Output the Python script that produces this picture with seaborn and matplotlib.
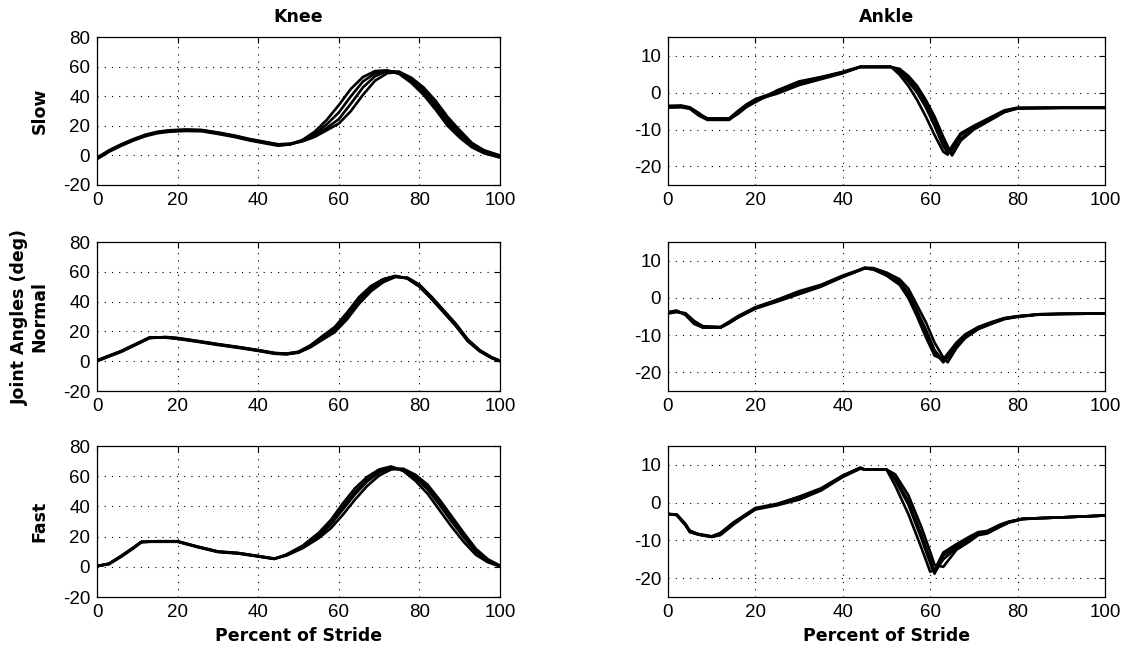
import matplotlib
matplotlib.use("Agg")
import matplotlib.pyplot as plt
import seaborn as sns
import pandas as pd

# ---------------- data ----------------
knee_slow_x = [0, 3, 6, 9, 12, 15, 18, 22, 26, 30, 34, 38, 42, 45, 48, 51, 54, 57, 60, 63,
               66, 69, 72, 75, 78, 81, 84, 87, 90, 93, 96, 100]
knee_slow_1 = [-2.5, 2.5, 6.5, 10, 13, 15, 16, 16.5, 16.3, 14.5, 12.5, 10, 8, 6.5, 7.5, 10.5,
               16, 24, 34, 45, 53, 57, 57.5, 55, 49, 41, 31, 20, 12, 5.5, 1.5, -1.5]
knee_slow_2 = [-2, 3, 7, 10.5, 13.5, 15.5, 16.5, 17, 16.8, 15, 13, 10.5, 8.5, 7, 7.5, 10,
               14.5, 21, 29, 40, 50, 55.5, 57, 56, 50, 43, 33, 22, 14, 7, 2, -1]
knee_slow_3 = [-1.5, 3.5, 7.5, 11, 14, 16, 17, 17.5, 17.2, 15.5, 13.5, 11, 9, 7.5, 8, 10,
               13.5, 18.5, 24.5, 35, 46, 53.5, 57, 56.5, 51.5, 44.5, 35, 24, 15.5, 7.5, 3, -0.5]
knee_slow_4 = [-2, 3, 7, 10.5, 13.5, 15.5, 16.8, 17.2, 17, 15.2, 13.2, 10.7, 8.7, 7.2, 7.7, 9.5,
               12.5, 17, 21.5, 30, 41, 50.5, 55.5, 56.5, 52.5, 46, 37, 26, 17, 8.5, 3.5, 0]

ankle_slow_x = [0, 3, 5, 7, 9, 14, 16, 18, 20, 25, 30, 35, 40, 44, 51, 53, 55, 57, 59, 61,
                63, 64, 65, 67, 70, 73, 77, 80, 90, 100]
ankle_slow_1 = [-3.6, -3.5, -4, -5.5, -7.2, -7.3, -5.8, -3.9, -2.6, 0.6, 3, 4.2, 5.6, 7, 7, 4.8,
                1.8, -2, -6.5, -11.5, -16, -16.8, -14.5, -11, -9, -7.2, -4.8, -4.1, -4.1, -4.0]
ankle_slow_2 = [-3.9, -3.8, -4.2, -5.8, -7, -7.1, -5.5, -3.6, -2.3, 0, 2.2, 3.8, 5.4, 6.9, 6.9, 5.6,
                3, 0, -4, -9, -14.5, -16.3, -15.5, -11.5, -9.3, -7.5, -5, -4.2, -4.1, -4.1]
ankle_slow_3 = [-4.1, -4, -4.4, -6.2, -7.4, -7.4, -5.2, -3.3, -2, -0.3, 2, 3.6, 5.2, 6.9, 6.9, 6,
                3.8, 1, -2.8, -7.5, -13, -15.5, -16.8, -12.5, -9.8, -7.8, -5.2, -4.3, -4.2, -4.2]
ankle_slow_4 = [-3.8, -3.7, -4.1, -6, -7, -7, -5, -3.2, -1.8, 0.3, 2.5, 4, 5.5, 6.9, 6.9, 6.4,
                4.5, 1.8, -2, -6.5, -12, -14.5, -17, -13, -10, -8, -5.3, -4.3, -4.1, -4.1]

knee_normal_x = [0, 3, 6, 9, 13, 17, 20, 25, 30, 35, 40, 44, 47, 50, 53, 56, 59, 62, 65, 68,
                 71, 74, 77, 80, 83, 86, 89, 92, 95, 98, 100]
knee_normal_1 = [0.3, 3.5, 6.6, 10.5, 15.8, 16, 15.3, 13.3, 11.2, 9.3, 7.2, 5.3, 4.8, 6, 10, 15.6,
                 21, 30, 40.5, 48.5, 54, 56.8, 55.8, 50.7, 42.5, 33.5, 24.5, 14, 7, 2.3, 0.2]
knee_normal_2 = [0, 3.2, 6.3, 10.2, 15.5, 16.3, 15.6, 13.6, 11.5, 9.6, 7.5, 5.6, 5.1, 6.4, 10.8, 17,
                 23, 32.5, 43, 50.5, 55, 57, 55.5, 50, 41.8, 32.8, 23.8, 13.4, 6.6, 2, 0]
knee_normal_3 = [0.6, 3.8, 6.9, 10.8, 16, 15.8, 15, 13, 10.9, 9, 6.9, 5, 4.6, 5.7, 9.4, 14.5,
                 19.5, 28, 38.5, 47, 53, 56.5, 56.2, 51.4, 43.3, 34.3, 25.3, 14.7, 7.4, 2.6, 0.4]
knee_normal_4 = [0.2, 3.4, 6.5, 10.4, 15.6, 16.1, 15.4, 13.4, 11.3, 9.4, 7.3, 5.4, 5, 6.2, 10.3, 16.2,
                 22, 31, 42, 50, 55, 57.3, 55.6, 50.3, 42, 33, 24, 13.7, 6.8, 2.2, 0.1]

ankle_normal_x = [0, 2, 4, 6, 8, 12, 14, 16, 18, 20, 25, 30, 35, 40, 43, 45, 47, 50, 53, 55,
                  57, 59, 61, 63, 64, 66, 68, 71, 74, 77, 80, 85, 90, 100]
ankle_normal_1 = [-4, -3.6, -4.3, -6.5, -7.8, -7.9, -6.6, -5.1, -3.9, -2.7, -0.8, 1.3, 3.2, 5.8, 7.1,
                  8, 7.8, 6.4, 4.3, 1.3, -3.5, -8.5, -14, -17, -15.8, -12.5, -10.2, -8, -6.7, -5.5,
                  -5, -4.4, -4.3, -4.2]
ankle_normal_2 = [-3.8, -3.4, -4.6, -7, -8, -8, -6.8, -5.3, -4.1, -2.9, -1, 1, 3, 5.6, 7,
                  8, 7.6, 6, 3.5, 0, -5, -10.5, -15.5, -16.5, -15, -12, -9.8, -7.8, -6.5, -5.4,
                  -4.9, -4.4, -4.3, -4.2]
ankle_normal_3 = [-4.2, -3.8, -4.1, -6.2, -7.6, -7.8, -6.4, -4.9, -3.7, -2.5, -0.5, 1.8, 3.5, 6, 7.2,
                  8.1, 8, 6.8, 5, 2.5, -2, -6.5, -12, -16, -17.3, -13.5, -10.8, -8.4, -7, -5.7,
                  -5.1, -4.5, -4.3, -4.2]
ankle_normal_4 = [-4, -3.7, -4.4, -6.7, -7.9, -8, -6.7, -5.2, -4, -2.8, -0.6, 1.6, 3.3, 5.7, 7,
                  7.9, 7.7, 6.2, 4, 1, -3.8, -9, -14.5, -17.3, -16, -12.8, -10.4, -8.2, -6.8, -5.6,
                  -5, -4.4, -4.3, -4.2]

knee_fast_x = [0, 3, 6, 9, 11, 15, 20, 25, 30, 35, 40, 44, 47, 51, 55, 58, 61, 64, 67, 70,
               73, 76, 79, 82, 85, 88, 91, 94, 97, 100]
knee_fast_1 = [0.5, 2, 7, 12.5, 16.5, 16.8, 16.8, 13.2, 10, 9, 7, 5.3, 7.8, 13, 20.5, 28, 38, 48,
               56.5, 62.5, 65.5, 64, 59, 51.5, 41, 30, 19.5, 10, 4, 0.5]
knee_fast_2 = [0.3, 2.2, 7.3, 12.8, 16.6, 16.6, 16.6, 13, 9.8, 8.8, 6.8, 5.2, 8.2, 14, 22.5, 31, 42, 52,
               59.5, 64.5, 66.5, 63.5, 57, 48.5, 37.5, 26.5, 16.5, 8, 3, 0.3]
knee_fast_3 = [0.7, 1.8, 6.7, 12.2, 16.3, 17, 17, 13.4, 10.2, 9.2, 7.2, 5.5, 7.5, 12.3, 19, 25.5, 34.5,
               44.5, 53.5, 60.5, 64.5, 65, 61, 54.5, 44.5, 33.5, 22.5, 12, 5, 0.8]
knee_fast_4 = [0.5, 2.1, 7.1, 12.6, 16.5, 16.9, 16.7, 13.3, 10.1, 9.1, 7.1, 5.4, 7.9, 13.3, 21, 29, 39.5,
               49.5, 57.5, 63, 65.8, 64.5, 59.8, 52.5, 42, 31, 20.5, 10.8, 4.3, 0.6]

ankle_fast_x = [0, 2, 4, 5, 7, 10, 12, 15, 17, 20, 25, 30, 35, 40, 44, 45, 50, 52, 55, 58,
                60, 61, 63, 66, 69, 71, 73, 76, 78, 81, 85, 90, 100]
ankle_fast_1 = [-3, -3.2, -5.8, -7.6, -8.4, -9, -8.3, -5.5, -3.9, -1.6, -0.5, 1.2, 3.5, 7, 9.2, 8.8,
                8.8, 6, -0.5, -9.5, -16, -18.8, -14, -11.5, -9.5, -8, -7.8, -6, -5.1, -4.3, -4.1,
                -3.9, -3.4]
ankle_fast_2 = [-3, -3.3, -6, -7.8, -8.5, -9.1, -8.6, -5.8, -4.1, -1.8, -0.7, 0.8, 3.2, 6.8, 9, 8.8,
                8.8, 4.5, -3, -12, -18.3, -17.8, -13.2, -11, -9, -7.8, -7.5, -5.8, -5, -4.3, -4.1,
                -3.9, -3.4]
ankle_fast_3 = [-3, -3.1, -5.6, -7.4, -8.3, -8.9, -8, -5.2, -3.7, -1.4, -0.3, 1.6, 3.8, 7.2, 9.3, 8.8,
                8.8, 7.5, 2, -6.5, -13, -16.5, -17, -12.5, -10.3, -8.6, -8.2, -6.4, -5.3, -4.4, -4.1,
                -3.9, -3.4]
ankle_fast_4 = [-3, -3.2, -5.9, -7.7, -8.4, -9, -8.4, -5.6, -4, -1.7, -0.4, 1.4, 3.6, 7.1, 9.2, 8.8,
                8.8, 6.5, 0.5, -8.5, -15, -18.5, -15, -12, -9.8, -8.2, -7.9, -6.1, -5.2, -4.3, -4.1,
                -3.9, -3.4]

columns = ["Knee", "Ankle"]
speeds = ["Slow", "Normal", "Fast"]
x_ticks = [0, 20, 40, 60, 80, 100]
knee_ticks = [-20, 0, 20, 40, 60, 80]
ankle_ticks = [-20, -10, 0, 10]
y_label_mid = "Joint Angles (deg)"
x_label = "Percent of Stride"

panels = {
    ("Slow", "Knee"): (knee_slow_x, [knee_slow_1, knee_slow_2, knee_slow_3, knee_slow_4]),
    ("Slow", "Ankle"): (ankle_slow_x, [ankle_slow_1, ankle_slow_2, ankle_slow_3, ankle_slow_4]),
    ("Normal", "Knee"): (knee_normal_x, [knee_normal_1, knee_normal_2, knee_normal_3, knee_normal_4]),
    ("Normal", "Ankle"): (ankle_normal_x, [ankle_normal_1, ankle_normal_2, ankle_normal_3, ankle_normal_4]),
    ("Fast", "Knee"): (knee_fast_x, [knee_fast_1, knee_fast_2, knee_fast_3, knee_fast_4]),
    ("Fast", "Ankle"): (ankle_fast_x, [ankle_fast_1, ankle_fast_2, ankle_fast_3, ankle_fast_4]),
}

# ---------------- style ----------------
sns.set_style("white")
plt.rcParams["font.family"] = ["DejaVu Sans"]
plt.rcParams["axes.unicode_minus"] = False
plt.rcParams["text.color"] = "black"
plt.rcParams["axes.labelcolor"] = "black"
plt.rcParams["xtick.color"] = "black"
plt.rcParams["ytick.color"] = "black"
plt.rcParams["axes.edgecolor"] = "black"
plt.rcParams["axes.linewidth"] = 0.9

fig = plt.figure(figsize=(11.31, 6.53), dpi=100)
fig.patch.set_facecolor("white")

col_left = {"Knee": 0.0858, "Ankle": 0.5906}
col_width = {"Knee": 0.3563, "Ankle": 0.3864}
row_bottom = {"Slow": 0.7167, "Normal": 0.4012, "Fast": 0.0857}
row_height = {"Slow": 0.2266, "Normal": 0.2282, "Fast": 0.2312}

for speed in speeds:
    for joint in columns:
        ax = fig.add_axes([col_left[joint], row_bottom[speed], col_width[joint], row_height[speed]])
        xs, curves = panels[(speed, joint)]
        rows = []
        for k, ys in enumerate(curves):
            for xv, yv in zip(xs, ys):
                rows.append({"pct": xv, "deg": yv, "stride": k})
        df = pd.DataFrame(rows)
        sns.lineplot(data=df, x="pct", y="deg", units="stride", estimator=None,
                     color="black", linewidth=1.9, ax=ax, legend=False, sort=False)
        ax.set_xlim(0, 100)
        ax.set_xticks(x_ticks)
        if joint == "Knee":
            ax.set_ylim(-20, 80)
            ax.set_yticks(knee_ticks)
        else:
            ax.set_ylim(-25, 15)
            ax.set_yticks(ankle_ticks)
        ax.grid(True, color="black", linestyle=(0, (1, 5.5)), linewidth=0.8)
        ax.tick_params(direction="in", length=4, width=0.8, top=True, right=True,
                       labelsize=13.5, colors="black", pad=5)
        for lbl in ax.get_xticklabels() + ax.get_yticklabels():
            lbl.set_family(["Liberation Sans", "DejaVu Sans"])
        for s in ax.spines.values():
            s.set_visible(True)
            s.set_color("black")
            s.set_linewidth(0.9)
        ax.set_xlabel("")
        ax.set_ylabel("")
        if speed == "Slow":
            ax.set_title(joint, fontsize=12.5, fontweight="bold", pad=11, color="black")
        if joint == "Knee":
            lab = speed if speed != "Normal" else y_label_mid + "\n" + speed
            ax.set_ylabel(lab, fontsize=12.5, fontweight="bold", linespacing=1.1, color="black")
            ax.yaxis.set_label_coords(-0.12, 0.5)
        if speed == "Fast":
            ax.set_xlabel(x_label, fontsize=12.5, fontweight="bold", color="black")
            ax.xaxis.set_label_coords(0.5, -0.2)

fig.savefig("out.png", dpi=100, facecolor="white")
